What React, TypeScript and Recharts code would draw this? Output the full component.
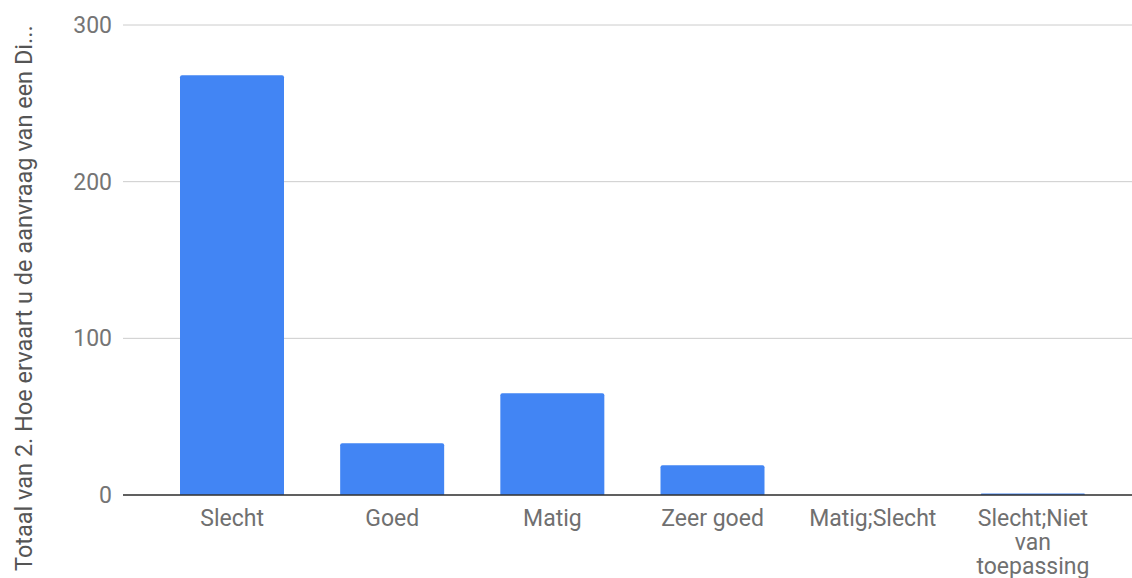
import React from 'react';
import { BarChart, Bar, XAxis, YAxis, CartesianGrid } from 'recharts';

const categories = ['Slecht', 'Goed', 'Matig', 'Zeer goed', 'Matig;Slecht', 'Slecht;Niet van toepassing'];
const totals = [268, 33, 65, 19, 0, 1];
const yTicks = [0, 100, 200, 300];

// wrapped x labels, as drawn in the original
const labelLines: Record<string, string[]> = {
  'Slecht;Niet van toepassing': ['Slecht;Niet', 'van', 'toepassing'],
};

const data = categories.map((name, i) => ({ name, total: totals[i] }));

const font = 'Roboto, "Noto Sans", Arial, sans-serif';

const CategoryTick = (props: any) => {
  const { x, y, payload } = props;
  const lines = labelLines[payload.value] || [payload.value];
  return (
    <text x={x} y={y + 31} textAnchor="middle" fill="#707070" fontSize={23} fontFamily={font}>
      {lines.map((line, i) => (
        <tspan key={i} x={x} dy={i === 0 ? 0 : 24}>{line}</tspan>
      ))}
    </text>
  );
};

const YTitle = () => (
  <text
    x={32}
    y={571}
    transform="rotate(-90 32 571)"
    textAnchor="start"
    fill="#555"
    fontSize={23.5}
    fontFamily={font}
  >
    Totaal van 2. Hoe ervaart u de aanvraag van een Di...
  </text>
);

export default function App() {
  return (
    <div style={{ position: 'absolute', left: 0, top: 0, background: '#fff' }}>
      <BarChart width={1132} height={578} data={data} margin={{ top: 25, right: 0, bottom: 0, left: 0 }}>
        <CartesianGrid vertical={false} stroke="#cccccc" />
        <XAxis
          dataKey="name"
          height={83}
          padding={{ left: 29, right: 19 }}
          axisLine={{ stroke: '#333', strokeWidth: 1.5 }}
          tickLine={false}
          tickSize={0}
          tickMargin={0}
          interval={0}
          tick={<CategoryTick />}
        />
        <YAxis
          width={123}
          domain={[0, 300]}
          ticks={yTicks}
          axisLine={false}
          tickLine={false}
          tickSize={0}
          tickMargin={11}
          tick={{ fill: '#757575', fontSize: 23, fontFamily: font }}
          label={<YTitle />}
        />
        <Bar dataKey="total" fill="#4285f4" barSize={104} radius={[2, 2, 0, 0]} isAnimationActive={false} />
      </BarChart>
    </div>
  );
}
